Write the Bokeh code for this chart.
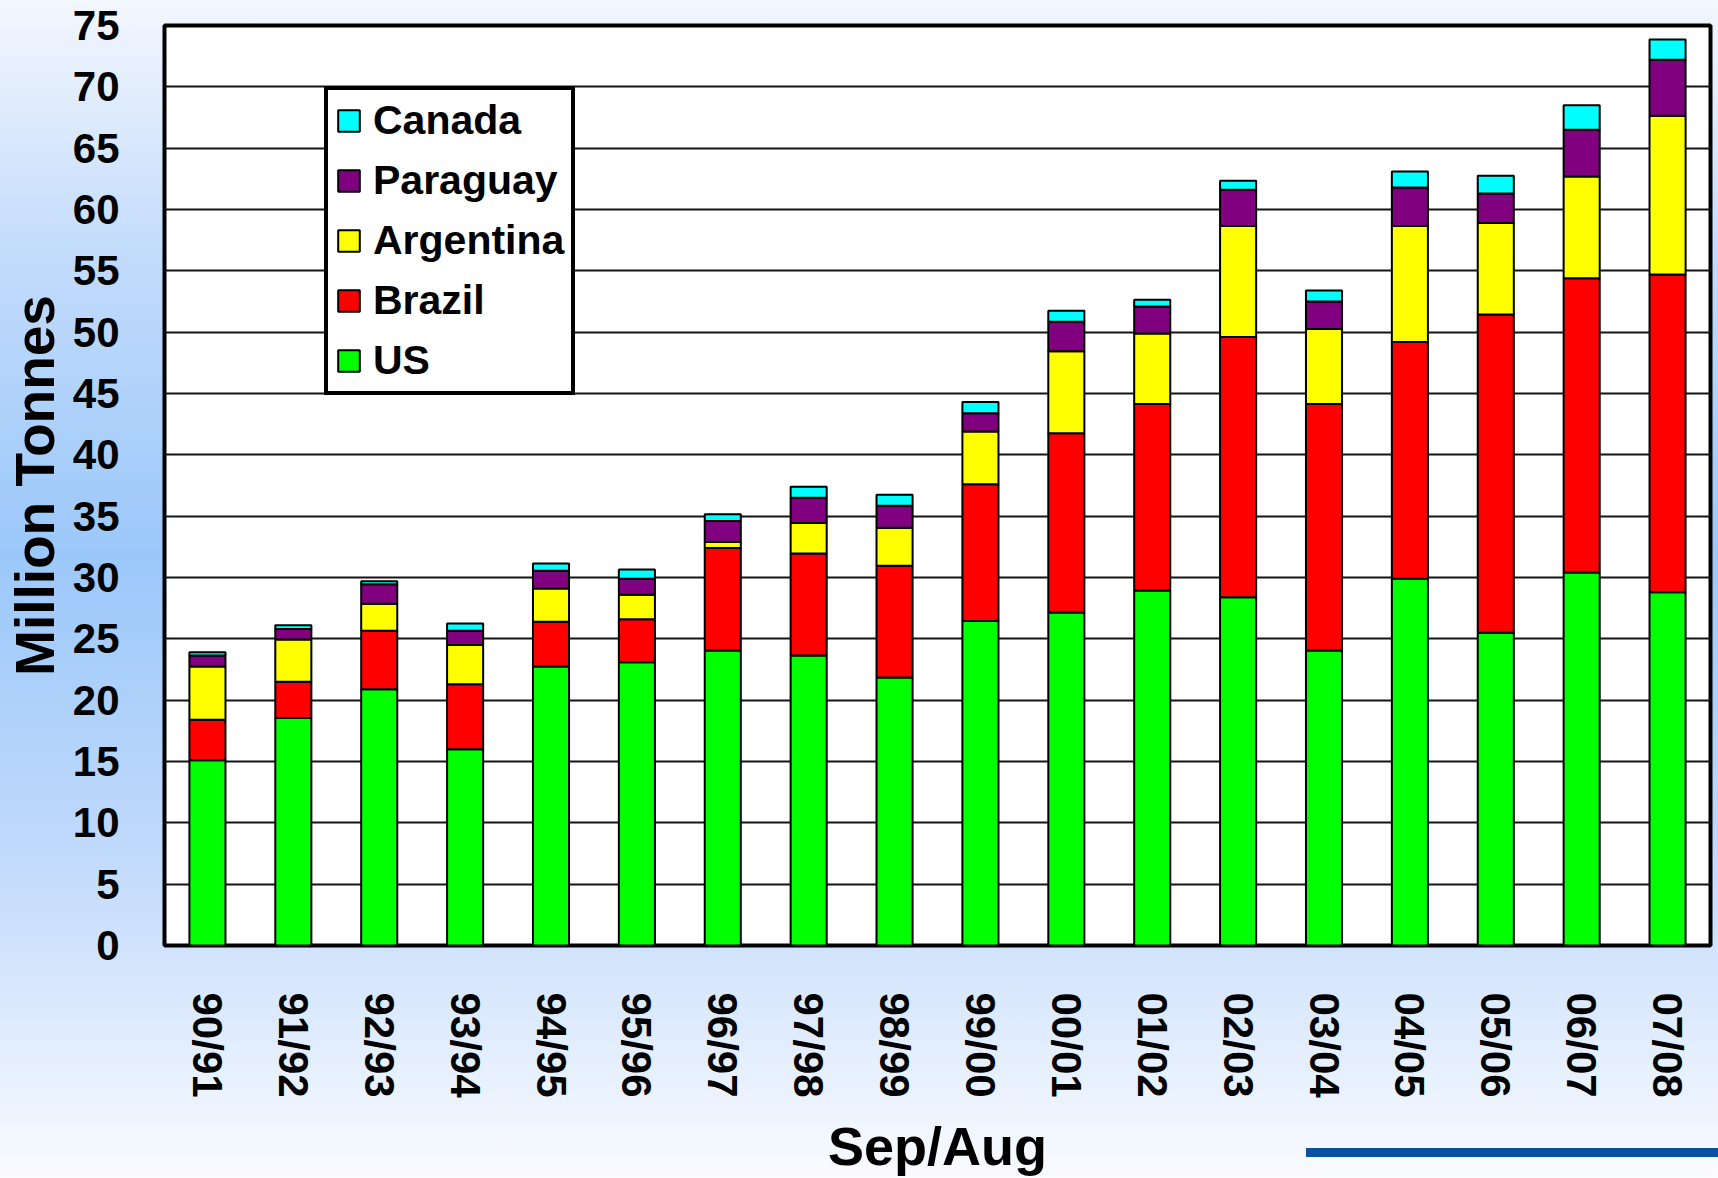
from bokeh.plotting import figure
from bokeh.models import FactorRange, Range1d, SingleIntervalTicker, Legend, LegendItem, ColumnDataSource
from bokeh.embed import file_html
from bokeh.resources import INLINE

# Soybean exports by origin, million tonnes, Sep/Aug marketing years
seasons = ["90/91", "91/92", "92/93", "93/94", "94/95", "95/96", "96/97", "97/98", "98/99",
           "99/00", "00/01", "01/02", "02/03", "03/04", "04/05", "05/06", "06/07", "07/08"]
us        = [15.1, 18.55, 20.9, 16.0, 22.75, 23.1, 24.05, 23.65, 21.85,
             26.45, 27.15, 28.95, 28.4, 24.05, 29.9, 25.5, 30.4, 28.8]
brazil    = [3.3, 2.95, 4.75, 5.3, 3.65, 3.5, 8.35, 8.3, 9.1,
             11.15, 14.6, 15.2, 21.2, 20.1, 19.3, 25.95, 24.0, 25.9]
argentina = [4.35, 3.45, 2.2, 3.2, 2.7, 2.0, 0.5, 2.5, 3.1,
             4.3, 6.7, 5.75, 9.05, 6.1, 9.45, 7.45, 8.3, 12.95]
paraguay  = [0.9, 0.85, 1.6, 1.15, 1.45, 1.3, 1.7, 2.05, 1.8,
             1.5, 2.4, 2.2, 2.95, 2.25, 3.15, 2.4, 3.8, 4.55]
canada    = [0.25, 0.3, 0.25, 0.6, 0.6, 0.75, 0.55, 0.9, 0.9,
             0.9, 0.9, 0.55, 0.75, 0.9, 1.3, 1.45, 2.0, 1.65]

origins = ["US", "Brazil", "Argentina", "Paraguay", "Canada"]
colors = ["#00ff00", "#ff0000", "#ffff00", "#800080", "#00ffff"]

source = ColumnDataSource(data=dict(season=seasons, US=us, Brazil=brazil,
                                    Argentina=argentina, Paraguay=paraguay, Canada=canada))

FONT = "Liberation Sans"

p = figure(width=1718, height=1178, x_range=FactorRange(*seasons, range_padding=0),
           y_range=Range1d(0, 75), output_backend="svg", toolbar_location=None,
           min_border_left=164, min_border_right=8, min_border_top=25, min_border_bottom=233)

p.border_fill_alpha = 0
p.background_fill_color = "white"
p.outline_line_color = "black"
p.outline_line_width = 4
p.styles = {
    "background": ("linear-gradient(#0a50a0, #0a50a0) no-repeat 1306px 1148px / 412px 9px, "
                   "linear-gradient(to bottom, #f3f7fe 0%, #c2dbfb 22%, #9bc8fa 47%, "
                   "#c0d9fb 72%, #f9fbff 100%)")
}

renderers = p.vbar_stack(origins, x="season", width=0.42, source=source,
                         fill_color=colors, line_color="black", line_width=2)

# axes
p.xgrid.grid_line_color = None
p.ygrid.grid_line_color = "#151515"
p.ygrid.grid_line_width = 2
p.yaxis.ticker = SingleIntervalTicker(interval=5)
p.ygrid.ticker = SingleIntervalTicker(interval=5)

for ax in (p.xaxis, p.yaxis):
    ax.axis_line_color = None
    ax.major_tick_line_color = None
    ax.minor_tick_line_color = None
    ax.major_label_text_font = FONT
    ax.major_label_text_font_style = "bold"
    ax.major_label_text_font_size = "42px"
    ax.major_label_text_color = "black"
    ax.axis_label_text_font = FONT
    ax.axis_label_text_font_style = "bold"
    ax.axis_label_text_color = "black"

p.yaxis.axis_label = "Million Tonnes"
p.yaxis.axis_label_text_font_size = "55px"
p.yaxis.major_label_standoff = 39
p.yaxis.axis_label_standoff = 4

p.xaxis.axis_label = "Sep/Aug"
p.xaxis.axis_label_text_font_size = "54px"
p.xaxis.major_label_orientation = "vertical"
p.xaxis.major_label_standoff = 41
p.xaxis.axis_label_standoff = 15

# legend, top series first
items = [LegendItem(label=name, renderers=[r]) for name, r in zip(origins, renderers)][::-1]
legend = Legend(items=items, location=(160, 550))
legend.label_text_font = FONT
legend.label_text_font_style = "bold"
legend.label_text_font_size = "41px"
legend.label_text_color = "black"
legend.glyph_width = 27
legend.glyph_height = 27
legend.label_height = 27
legend.label_standoff = 11
legend.spacing = 13
legend.padding = 7
legend.margin = 0
legend.border_line_color = "black"
legend.border_line_alpha = 1
legend.border_line_width = 4
legend.background_fill_color = "white"
legend.background_fill_alpha = 1
p.add_layout(legend, "center")

open("out.html", "w").write(file_html(p, INLINE))
